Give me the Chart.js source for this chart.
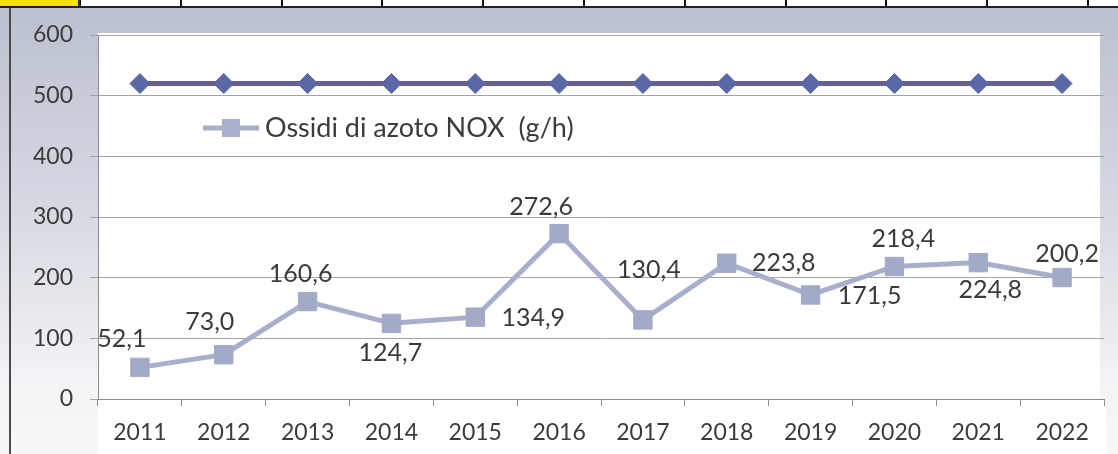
<!DOCTYPE html>
<html>
<head>
<meta charset="utf-8">
<script src="https://cdn.jsdelivr.net/npm/chart.js@4"></script>
<style>
  body { margin: 0; width: 1118px; height: 454px; overflow: hidden; background: #fff; }
  #strip { position: absolute; left: 0; top: 0; width: 1118px; height: 6px; border-bottom: 2px solid #222;
    background: repeating-linear-gradient(90deg, transparent 0, transparent 79px, #111 79px, #111 81px, transparent 81px, transparent 100.8px);
    background-position: 0 0; z-index: 2; }
  #cell { position: absolute; left: 0; top: 0; width: 78px; height: 6px; background: #f2e200; border-right: 2px solid #333; z-index: 3; }
  #wrap { position: absolute; left: 0; top: 0; }
</style>
</head>
<body>
<div id="strip"></div>
<div id="cell"></div>
<div id="wrap"><canvas id="myChart" width="1118" height="454"></canvas></div>
<script>
const years = ['2011', '2012', '2013', '2014', '2015', '2016', '2017', '2018', '2019', '2020', '2021', '2022'];
const noxValues = [52.1, 73.0, 160.6, 124.7, 134.9, 272.6, 130.4, 223.8, 171.5, 218.4, 224.8, 200.2];
const limitValues = [520, 520, 520, 520, 520, 520, 520, 520, 520, 520, 520, 520];
const yTicks = [0, 100, 200, 300, 400, 500, 600];
const noxLabel = 'Ossidi di azoto NOX  (g/h)';

// where each value label sits relative to its point (dx, dy in px)
const labelOffsets = [[-18, -28], [-14, -33], [-7, -28], [-1, 30], [58, 1], [-18, -27],
  [6, -50], [57, 0], [59, 1], [9, -28], [12, 27], [5, -24]];

const FONT = 'Lato, "Open Sans", sans-serif';
const noxColor = '#a7afcb';
const textColor = '#3b3b3b';

const background = {
  id: 'background',
  beforeDraw(chart) {
    const { ctx, chartArea } = chart;
    ctx.save();
    const g = ctx.createLinearGradient(0, 8, 0, 454);
    g.addColorStop(0, '#bcc1d0');
    g.addColorStop(0.45, '#d6d9e2');
    g.addColorStop(0.85, '#f3f4f6');
    g.addColorStop(1, '#f8f8f9');
    ctx.fillStyle = g;
    ctx.fillRect(0, 8, 1118, 446);
    ctx.fillStyle = '#ffffff';
    ctx.fillRect(chartArea.left, chartArea.top - 2, chartArea.right - chartArea.left - 4, chartArea.bottom - chartArea.top + 2);
    ctx.fillRect(chartArea.left, chartArea.bottom, 1008, 55);
    ctx.fillStyle = '#4a4a4a';
    ctx.fillRect(9, 8, 2, 446);
    ctx.restore();
  }
};

const valueLabels = {
  id: 'valueLabels',
  afterDatasetsDraw(chart) {
    const { ctx } = chart;
    const meta = chart.getDatasetMeta(1);
    ctx.save();
    ctx.font = '25px ' + FONT;
    ctx.fillStyle = textColor;
    ctx.textAlign = 'center';
    ctx.textBaseline = 'middle';
    meta.data.forEach((pt, i) => {
      const txt = noxValues[i].toFixed(1).replace('.', ',');
      ctx.fillText(txt, pt.x + labelOffsets[i][0], pt.y + labelOffsets[i][1]);
    });
    ctx.restore();
  }
};

const insideLegend = {
  id: 'insideLegend',
  afterDraw(chart) {
    const { ctx, chartArea } = chart;
    const x = chartArea.left + 105;
    const y = chartArea.top + 93;
    ctx.save();
    ctx.strokeStyle = noxColor;
    ctx.lineWidth = 5;
    ctx.beginPath();
    ctx.moveTo(x, y);
    ctx.lineTo(x + 56, y);
    ctx.stroke();
    ctx.fillStyle = noxColor;
    ctx.fillRect(x + 19, y - 9, 18, 18);
    ctx.font = '27px ' + FONT;
    ctx.fillStyle = textColor;
    ctx.textBaseline = 'middle';
    ctx.fillText(noxLabel, x + 62, y);
    ctx.restore();
  }
};

const ctx = document.getElementById('myChart').getContext('2d');
new Chart(ctx, {
  type: 'line',
  data: {
    labels: years,
    datasets: [
      {
        label: 'Limite',
        data: limitValues,
        borderColor: '#6a5f92',
        borderWidth: 5,
        pointStyle: 'rectRot',
        pointRadius: 10,
        pointBackgroundColor: '#5b68a6',
        pointBorderColor: '#5b68a6',
        pointBorderWidth: 1
      },
      {
        label: noxLabel,
        data: noxValues,
        borderColor: noxColor,
        borderWidth: 5,
        pointStyle: 'rect',
        pointRadius: 13,
        pointBackgroundColor: '#a2aac8',
        pointBorderColor: '#a2aac8',
        pointBorderWidth: 1
      }
    ]
  },
  options: {
    responsive: false,
    animation: false,
    devicePixelRatio: 1,
    layout: { padding: { top: 35, right: 6, bottom: 0, left: 0 } },
    plugins: { legend: { display: false }, tooltip: { enabled: false } },
    scales: {
      x: {
        offset: true,
        grid: { offset: true, drawOnChartArea: false, drawTicks: true, tickLength: 7, color: '#8c8c8c' },
        border: { display: true, color: '#8c8c8c', width: 1 },
        ticks: { font: { family: FONT, size: 23 }, color: textColor, padding: 13, maxRotation: 0 },
        afterFit(scale) { scale.height = 55; }
      },
      y: {
        min: 0,
        max: 600,
        afterBuildTicks(scale) { scale.ticks = yTicks.map(v => ({ value: v })); },
        grid: { color: '#a3a3a3', tickLength: 8, lineWidth: 1 },
        border: { display: true, color: '#8c8c8c', width: 1 },
        ticks: { font: { family: FONT, size: 23 }, color: textColor, padding: 17 },
        afterFit(scale) { scale.width = 98; }
      }
    }
  },
  plugins: [background, valueLabels, insideLegend]
});
</script>
</body>
</html>
